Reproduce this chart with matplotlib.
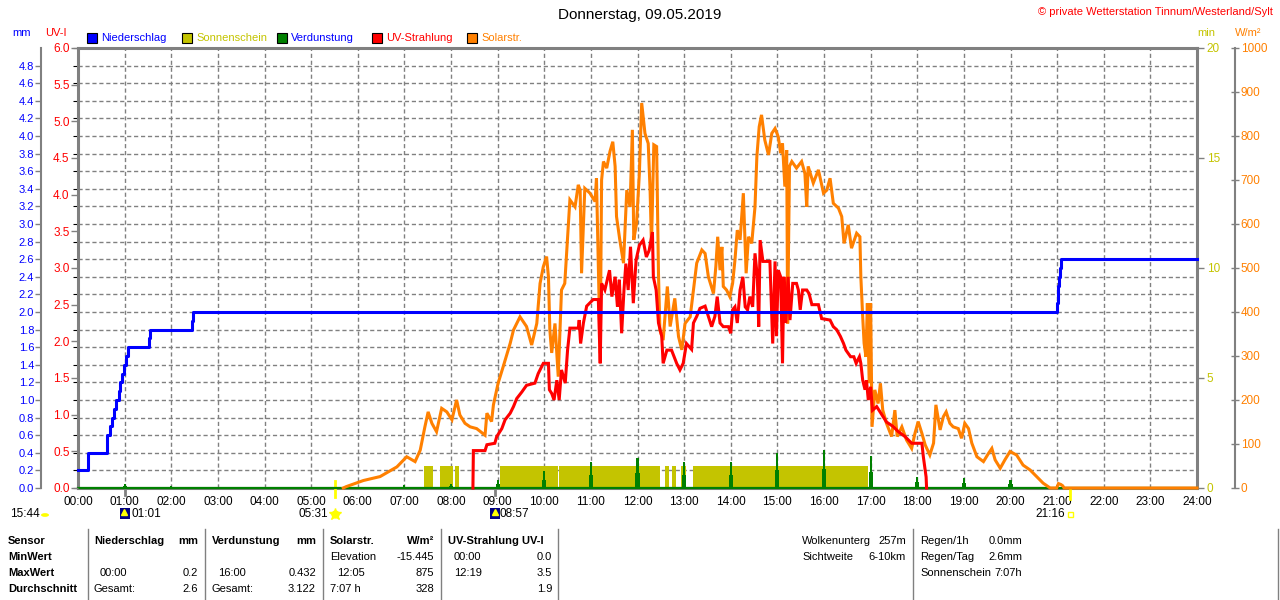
import matplotlib
matplotlib.use('Agg')
import matplotlib.pyplot as plt
import numpy as np
import matplotlib.transforms as mtransforms
from matplotlib.patches import Rectangle, Circle
from matplotlib.lines import Line2D

plt.rcParams['font.family'] = ['Liberation Sans', 'DejaVu Sans']

# ---------------- data (time in decimal hours) ----------------
rain_t = [0.0, 0.22, 0.63, 0.686, 0.72, 0.78, 0.815, 0.87, 0.91, 0.944, 0.99, 1.04, 1.07,
          1.52, 1.545, 2.445, 2.47, 20.99, 21.02, 21.04, 21.06, 21.08, 24.0]
rain_v = [0.2, 0.4, 0.6, 0.7, 0.8, 0.9, 1.0, 1.1, 1.2, 1.3, 1.4, 1.5, 1.6,
          1.7, 1.8, 1.9, 2.0, 2.1, 2.3, 2.4, 2.5, 2.6, 2.6]

evap_hours = list(range(24))
evap_mm = [0.01, 0.04, 0.02, 0.0, 0.0, 0.0, 0.0, 0.03, 0.05, 0.09, 0.19, 0.30,
           0.34, 0.29, 0.29, 0.40, 0.432, 0.36, 0.13, 0.11, 0.09, 0.03, 0.0, 0.01]

sun_start = [7.43, 7.77, 8.09, 9.06, 10.32, 12.60, 12.73, 12.93, 13.18]
sun_end   = [7.61, 8.04, 8.17, 10.29, 12.48, 12.67, 12.82, 13.03, 16.95]
sun_min = 1.0

solar_t = [5.69, 5.75, 6.12, 6.48, 6.84, 7.05, 7.23, 7.34, 7.44, 7.51, 7.59, 7.69, 7.80, 7.91,
           8.02, 8.12, 8.19, 8.30, 8.41, 8.55, 8.73, 8.77, 8.87, 8.91, 9.01, 9.12, 9.27, 9.34,
           9.48, 9.62, 9.73, 9.84, 9.91, 9.98, 10.05, 10.09, 10.12, 10.16, 10.23, 10.30, 10.37,
           10.44, 10.52, 10.55, 10.66, 10.73, 10.77, 10.80, 10.87, 10.98, 11.09, 11.12, 11.20,
           11.23, 11.27, 11.34, 11.41, 11.47, 11.52, 11.55, 11.62, 11.70, 11.77, 11.84, 11.89,
           11.92, 11.98, 12.04, 12.09, 12.16, 12.23, 12.27, 12.30, 12.35, 12.41, 12.45, 12.48,
           12.55, 12.64, 12.70, 12.80, 12.88, 12.95, 13.02, 13.13, 13.20, 13.27, 13.38, 13.45,
           13.52, 13.63, 13.68, 13.72, 13.77, 13.81, 13.84, 13.91, 13.98, 14.04, 14.09, 14.14,
           14.20, 14.27, 14.33, 14.38, 14.45, 14.52, 14.56, 14.61, 14.66, 14.73, 14.81, 14.88,
           14.95, 15.02, 15.07, 15.11, 15.16, 15.20, 15.22, 15.26, 15.31, 15.41, 15.52, 15.59,
           15.63, 15.66, 15.77, 15.88, 15.99, 16.06, 16.13, 16.20, 16.31, 16.38, 16.43, 16.52,
           16.59, 16.70, 16.77, 16.79, 16.83, 16.86, 16.90, 16.93, 16.97, 17.00, 17.03, 17.09,
           17.16, 17.21, 17.26, 17.34, 17.45, 17.52, 17.57, 17.67, 17.77, 17.88, 17.95, 18.02,
           18.10, 18.17, 18.27, 18.35, 18.40, 18.49, 18.56, 18.62, 18.70, 18.77, 18.88, 18.95,
           19.02, 19.10, 19.17, 19.28, 19.42, 19.53, 19.60, 19.67, 19.78, 19.88, 19.99, 20.13,
           20.27, 20.42, 20.56, 20.70, 20.85, 20.99, 21.03, 21.08, 21.12, 21.15, 24.0]
solar_w = [0, 3, 17, 26, 48, 71, 60, 86, 139, 173, 147, 128, 181, 173,
           155, 200, 166, 147, 139, 135, 120, 170, 151, 189, 238, 276, 329, 359,
           389, 367, 325, 374, 465, 503, 526, 480, 359, 307, 374, 253, 450,
           465, 602, 655, 639, 689, 677, 488, 681, 670, 651, 704, 306,
           700, 742, 727, 765, 787, 731, 617, 564, 511, 677, 639, 814,
           564, 602, 715, 875, 806, 783, 677, 553, 780, 776, 488, 359,
           336, 458, 367, 431, 344, 314, 374, 389, 450, 511, 541, 533,
           480, 442, 503, 571, 495, 548, 458, 450, 435, 465, 518, 586,
           564, 670, 488, 571, 556, 639, 753, 821, 848, 791, 757, 806,
           817, 798, 761, 783, 685, 768, 374, 731, 742, 727, 742, 715,
           639, 731, 693, 723, 670, 677, 704, 647, 636, 617, 556, 598,
           545, 579, 571, 480, 389, 329, 298, 420, 238, 420, 139, 223,
           192, 238, 177, 147, 117, 177, 117, 139, 109, 90, 124, 151,
           124, 98, 75, 102, 189, 132, 162, 173, 147, 139, 135, 113,
           147, 135, 102, 71, 60, 79, 90, 64, 45, 64, 83, 75,
           52, 41, 26, 11, 0, 0, 10, 8, 5, 0, 0]

uv_t = [8.47, 8.48, 8.73, 8.77, 8.94, 8.98, 9.09, 9.16, 9.27, 9.34, 9.41, 9.52, 9.62, 9.80,
        9.87, 9.98, 10.09, 10.11, 10.16, 10.21, 10.27, 10.32, 10.37, 10.45, 10.50, 10.55,
        10.73, 10.75, 10.78, 10.84, 10.91, 11.05, 11.16, 11.20, 11.23, 11.30, 11.40, 11.45,
        11.52, 11.57, 11.61, 11.66, 11.71, 11.75, 11.80, 11.85, 11.91, 11.97, 12.04, 12.12,
        12.19, 12.25, 12.32, 12.34, 12.40, 12.45, 12.52, 12.55, 12.63, 12.73, 12.84, 12.91,
        12.98, 13.05, 13.16, 13.20, 13.27, 13.34, 13.45, 13.52, 13.59, 13.66, 13.71, 13.77,
        13.84, 13.95, 14.00, 14.04, 14.09, 14.14, 14.20, 14.26, 14.31, 14.36, 14.41, 14.47,
        14.52, 14.57, 14.60, 14.63, 14.69, 14.84, 14.90, 14.95, 14.98, 15.02, 15.07, 15.11,
        15.14, 15.18, 15.23, 15.27, 15.33, 15.41, 15.45, 15.49, 15.54, 15.63, 15.68, 15.74,
        15.88, 15.95, 16.13, 16.20, 16.27, 16.35, 16.42, 16.47, 16.57, 16.64, 16.69, 16.76,
        16.79, 16.83, 16.88, 16.91, 16.95, 17.00, 17.04, 17.13, 17.22, 17.34, 17.48, 17.59,
        17.74, 17.88, 18.10, 18.13, 18.19, 18.20]
uv_i = [0, 0.51, 0.51, 0.59, 0.61, 0.70, 0.81, 0.93, 1.02, 1.11, 1.22, 1.31, 1.40, 1.43,
        1.56, 1.70, 1.70, 1.34, 1.29, 1.20, 1.47, 1.20, 1.61, 1.43, 1.88, 2.18,
        2.18, 2.29, 1.97, 2.25, 2.48, 2.57, 2.57, 1.70, 2.79, 2.70, 2.97, 2.61,
        2.88, 2.47, 2.84, 2.11, 2.70, 3.06, 2.70, 3.29, 2.52, 3.11, 3.31, 3.38,
        3.15, 3.24, 3.49, 2.88, 2.70, 2.25, 2.07, 1.70, 1.88, 1.88, 1.70, 1.61,
        1.70, 1.97, 1.89, 2.25, 2.34, 2.45, 2.48, 2.34, 2.20, 2.34, 2.61, 2.25,
        2.20, 2.20, 2.11, 2.43, 2.47, 2.25, 2.70, 2.88, 2.47, 2.43, 2.61, 2.47,
        3.20, 2.88, 2.20, 3.38, 3.09, 3.09, 1.97, 3.09, 2.07, 2.97, 2.88, 1.70,
        2.88, 2.25, 2.88, 2.29, 2.79, 2.79, 2.70, 2.43, 2.70, 2.70, 2.65, 2.50,
        2.50, 2.31, 2.29, 2.20, 2.16, 2.07, 1.97, 1.88, 1.79, 1.79, 1.70, 1.79,
        1.70, 1.47, 1.34, 1.47, 1.20, 1.38, 1.06, 1.11, 1.02, 0.90, 0.84, 0.77,
        0.70, 0.61, 0.61, 0.43, 0.15, 0.0]

hour_labels = [f'{h:02d}:00' for h in range(25)]
mm_ticks = [round(0.2 * i, 1) for i in range(25)]
uv_ticks = [0.5 * i for i in range(13)]
min_ticks = [0, 5, 10, 15, 20]
w_ticks = [100 * i for i in range(11)]

sunrise, sunset = 5.517, 21.267
moonrise, moonset = 1.017, 8.95

# ---------------- colours ----------------
C_BLUE = '#0000FF'
C_YEL = '#C4C400'
C_GREEN = '#008000'
C_RED = '#FF0000'
C_ORANGE = '#FF8000'
C_GRAY = '#808080'

W_PX, H_PX = 1280, 600
fig = plt.figure(figsize=(12.8, 6.0), dpi=100)


def fx(x):
    return x / W_PX


def fy(y):
    return 1 - y / H_PX


L, B, Wd, Ht = 78 / W_PX, 112 / H_PX, 1119 / W_PX, 440 / H_PX
ax = fig.add_axes([L, B, Wd, Ht])
ax.set_xlim(0, 24)
ax.set_ylim(0, 5)
ax.set_xticks(range(25))
ax.set_xticklabels(hour_labels)
ax.set_yticks(mm_ticks + [5.0])
ax.grid(True, color=C_GRAY, linestyle=(0, (3, 2)), linewidth=1)
ax.tick_params(axis='x', length=0, pad=6, labelsize=8.5)
ax.tick_params(axis='y', left=False, labelleft=False)
for s in ['left', 'top', 'right', 'bottom']:
    ax.spines[s].set_color(C_GRAY)
    ax.spines[s].set_linewidth(2.2)
ax.set_axisbelow(True)


def twin():
    t = ax.twinx()
    for s in t.spines.values():
        s.set_visible(False)
    t.set_xlim(0, 24)
    t.tick_params(axis='y', right=False, left=False, labelright=False, labelleft=False)
    return t


# mm labels (outer left)
ax_mm = twin()
ax_mm.set_ylim(0, 5)
ax_mm.yaxis.tick_left()
ax_mm.spines['left'].set_visible(True)
ax_mm.spines['left'].set_position(('outward', 26.6))
ax_mm.spines['left'].set_color(C_GRAY)
ax_mm.spines['left'].set_linewidth(1.5)
ax_mm.set_yticks(mm_ticks)
ax_mm.set_yticklabels([f'{v:.1f}' for v in mm_ticks])
ax_mm.tick_params(axis='y', left=True, labelleft=True, length=4, width=1, color=C_GRAY,
                  labelcolor=C_BLUE, labelsize=8, pad=1)

# Sonnenschein
ax_sun = twin()
ax_sun.set_ylim(0, 20)
for s0, s1 in zip(sun_start, sun_end):
    ax_sun.fill_between([s0, s1], [sun_min, sun_min], 0, color=C_YEL, linewidth=0)
ax_sun.set_yticks(min_ticks)
ax_sun.set_yticklabels([str(v) for v in min_ticks])
ax_sun.tick_params(axis='y', right=True, labelright=True, length=5, width=1, color=C_GRAY,
                   labelcolor=C_YEL, labelsize=8.5, pad=2)

# Verdunstung
ax_ev = twin()
ax_ev.set_ylim(0, 5)
ax_ev.plot([0, 24], [0, 0], color=C_GREEN, linewidth=1.6, clip_on=False)
ax_ev.bar(evap_hours, [v * 0.5 for v in evap_mm], width=0.09, color=C_GREEN, linewidth=0)
ax_ev.bar(evap_hours, evap_mm, width=0.045, color=C_GREEN, linewidth=0)

# Solarstrahlung
ax_sol = twin()
ax_sol.set_ylim(0, 1000)
ax_sol.plot(solar_t, solar_w, color=C_ORANGE, linewidth=2.2, clip_on=False,
            solid_joinstyle='miter')
ax_sol.spines['right'].set_visible(True)
ax_sol.spines['right'].set_position(('outward', 27.4))
ax_sol.spines['right'].set_color(C_GRAY)
ax_sol.spines['right'].set_linewidth(1.5)
ax_sol.set_yticks(w_ticks)
ax_sol.set_yticklabels([str(v) for v in w_ticks])
ax_sol.tick_params(axis='y', right=True, labelright=True, direction='inout', length=6, width=1,
                   color=C_GRAY, labelcolor=C_ORANGE, labelsize=8.5, pad=1)

# UV
ax_uv = twin()
ax_uv.set_ylim(0, 6)
ax_uv.plot(uv_t, uv_i, color=C_RED, linewidth=2.2, clip_on=False, solid_joinstyle='miter')
ax_uv.yaxis.tick_left()
ax_uv.set_yticks(uv_ticks)
ax_uv.set_yticklabels([f'{v:.1f}' for v in uv_ticks])
ax_uv.tick_params(axis='y', left=True, labelleft=True, length=5, width=1, color=C_GRAY,
                  labelcolor=C_RED, labelsize=8.5, pad=1)

# Niederschlag
ax_rn = twin()
ax_rn.set_ylim(0, 5)
ax_rn.step(rain_t, rain_v, where='post', color=C_BLUE, linewidth=2.2, clip_on=False)

# sun / moon markers below the axis
btr = mtransforms.blended_transform_factory(ax.transData, ax.transAxes)
for t, y0, y1, c, lw in [(sunrise, 0.016, -0.02, '#FFFF00', 2),
                         (sunset, 0.0, -0.025, '#FFFF00', 2),
                         (moonrise, 0.0, -0.015, C_GRAY, 2),
                         (moonset, 0.0, -0.015, C_GRAY, 2)]:
    ax.add_line(Line2D([t, t], [y0, y1], transform=btr, color=c, linewidth=lw, clip_on=False,
                       zorder=10))

# ---------------- texts ----------------
fig.text(0.5, fy(15), 'Donnerstag, 09.05.2019', ha='center', va='center', fontsize=11)
fig.text(fx(1273), fy(12), '© private Wetterstation Tinnum/Westerland/Sylt', ha='right',
         va='center', fontsize=8, color=C_RED)

fig.text(fx(22), fy(33), 'mm', ha='center', va='center', fontsize=8, color=C_BLUE)
fig.text(fx(56), fy(33), 'UV-I', ha='center', va='center', fontsize=8, color=C_RED)
fig.text(fx(1206), fy(33), 'min', ha='center', va='center', fontsize=8, color=C_YEL)
fig.text(fx(1248), fy(33), 'W/m²', ha='center', va='center', fontsize=8, color=C_ORANGE)

legend_items = [(87, C_BLUE, 'Niederschlag', C_BLUE),
                (182, C_YEL, 'Sonnenschein', C_YEL),
                (277, C_GREEN, 'Verdunstung', C_BLUE),
                (372, C_RED, 'UV-Strahlung', C_RED),
                (467, C_ORANGE, 'Solarstr.', C_ORANGE)]
for x, fc, label, tc in legend_items:
    fig.patches.append(Rectangle((fx(x), fy(43)), 10 / W_PX, 10 / H_PX, facecolor=fc,
                                 edgecolor='black', linewidth=0.8, transform=fig.transFigure))
    fig.text(fx(x + 14), fy(38), label, ha='left', va='center', fontsize=8, color=tc)

# moon / sun time texts
fig.text(fx(10), fy(514), '15:44', ha='left', va='center', fontsize=8.5)
fig.patches.append(Circle((fx(45), fy(515)), 4 / W_PX, facecolor='#FFFF00', edgecolor='none',
                          transform=fig.transFigure))
fig.patches.append(Rectangle((fx(120), fy(519)), 10 / W_PX, 11 / H_PX, facecolor='#000080',
                             edgecolor='none', transform=fig.transFigure))
fig.add_artist(Line2D([fx(124)], [fy(512)], marker='^', markersize=4, color='#FFFF00',
                      transform=fig.transFigure))
fig.text(fx(131), fy(514), '01:01', ha='left', va='center', fontsize=8.5)
fig.text(fx(328), fy(514), '05:31', ha='right', va='center', fontsize=8.5)
fig.add_artist(Line2D([fx(335)], [fy(514)], marker='*', markersize=9, color='#FFFF00',
                      transform=fig.transFigure))
fig.add_artist(Line2D([fx(335)], [fy(514)], marker='o', markersize=5, color='#FFFF00',
                      transform=fig.transFigure))
fig.patches.append(Rectangle((fx(490), fy(519)), 10 / W_PX, 11 / H_PX, facecolor='#000080',
                             edgecolor='none', transform=fig.transFigure))
fig.add_artist(Line2D([fx(495)], [fy(512)], marker='^', markersize=4, color='#FFFF00',
                      transform=fig.transFigure))
fig.text(fx(500), fy(514), '08:57', ha='left', va='center', fontsize=8.5)
fig.text(fx(1065), fy(514), '21:16', ha='right', va='center', fontsize=8.5)
fig.patches.append(Rectangle((fx(1068), fy(517)), 5 / W_PX, 5 / H_PX, facecolor='none',
                             edgecolor='#FFFF00', linewidth=1, transform=fig.transFigure))

# ---------------- table ----------------
for x in [88, 205, 323, 441, 558, 913, 1278]:
    fig.add_artist(Line2D([fx(x), fx(x)], [fy(529), fy(600)], color=C_GRAY, linewidth=1,
                          transform=fig.transFigure))

rows = [541, 557, 573, 589]
table = [
    (8, 0, 'Sensor', 'left', True), (8, 1, 'MinWert', 'left', True),
    (8, 2, 'MaxWert', 'left', True), (8, 3, 'Durchschnitt', 'left', True),
    (94, 0, 'Niederschlag', 'left', True), (198, 0, 'mm', 'right', True),
    (100, 2, '00:00', 'left', False), (198, 2, '0.2', 'right', False),
    (94, 3, 'Gesamt:', 'left', False), (198, 3, '2.6', 'right', False),
    (212, 0, 'Verdunstung', 'left', True), (316, 0, 'mm', 'right', True),
    (218, 2, '16:00', 'left', False), (316, 2, '0.432', 'right', False),
    (212, 3, 'Gesamt:', 'left', False), (316, 3, '3.122', 'right', False),
    (330, 0, 'Solarstr.', 'left', True), (434, 0, 'W/m²', 'right', True),
    (330, 1, 'Elevation', 'left', False), (434, 1, '-15.445', 'right', False),
    (337, 2, '12:05', 'left', False), (434, 2, '875', 'right', False),
    (330, 3, '7:07 h', 'left', False), (434, 3, '328', 'right', False),
    (448, 0, 'UV-Strahlung UV-I', 'left', True),
    (454, 1, '00:00', 'left', False), (552, 1, '0.0', 'right', False),
    (454, 2, '12:19', 'left', False), (552, 2, '3.5', 'right', False),
    (552, 3, '1.9', 'right', False),
    (802, 0, 'Wolkenunterg', 'left', False), (906, 0, '257m', 'right', False),
    (802, 1, 'Sichtweite', 'left', False), (906, 1, '6-10km', 'right', False),
    (920, 0, 'Regen/1h', 'left', False), (1022, 0, '0.0mm', 'right', False),
    (920, 1, 'Regen/Tag', 'left', False), (1022, 1, '2.6mm', 'right', False),
    (920, 2, 'Sonnenschein', 'left', False), (1022, 2, '7:07h', 'right', False),
]
for x, r, txt, ha, bold in table:
    fig.text(fx(x), fy(rows[r]), txt, ha=ha, va='center', fontsize=8,
             fontweight='bold' if bold else 'normal')

fig.savefig('out.png', dpi=100)
